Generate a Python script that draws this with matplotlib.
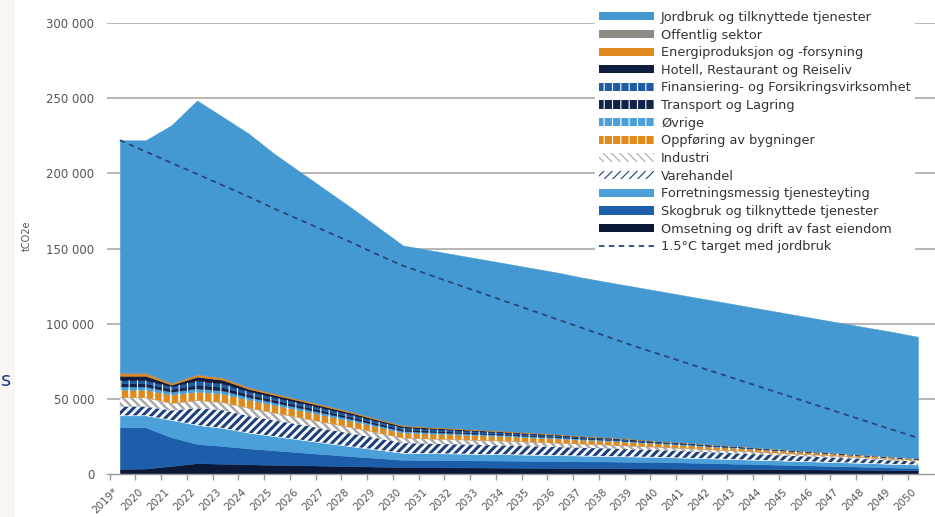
import numpy as np
import matplotlib
matplotlib.use('Agg')
import matplotlib.pyplot as plt
from matplotlib.patches import Rectangle, Patch
from matplotlib.lines import Line2D
from matplotlib.ticker import FuncFormatter

years = ['2019*'] + [str(y) for y in range(2020, 2051)]

# emissions per sector, 1000 tCO2e
omsetning = [3.3, 3.6, 5.3, 7.2, 6.8, 6.4, 6.1, 5.8, 5.5, 5.2, 4.9, 4.6, 4.5, 4.4, 4.3, 4.2,
             4.1, 4.0, 3.9, 3.8, 3.7, 3.6, 3.5, 3.4, 3.3, 3.2, 3.1, 3.0, 2.9, 2.8, 2.6, 2.5]
skogbruk = [27.7, 27.4, 19.1, 12.8, 11.8, 10.6, 9.6, 8.6, 7.6, 6.6, 5.7, 4.8, 4.8, 4.8, 4.7, 4.7,
            4.6, 4.6, 4.5, 4.5, 4.4, 4.4, 4.1, 3.8, 3.5, 3.2, 2.9, 2.6, 2.3, 2.0, 1.7, 1.5]
forretning = [8.0, 8.0, 11.6, 12.6, 12.0, 10.5, 9.5, 8.5, 7.5, 6.6, 5.6, 4.6, 4.5, 4.4, 4.3, 4.2,
              4.1, 3.9, 3.8, 3.6, 3.5, 3.3, 3.2, 3.1, 3.0, 2.9, 2.8, 2.7, 2.6, 2.5, 2.4, 2.3]
varehandel = [5.8, 5.8, 6.2, 11.1, 11.8, 11.0, 10.4, 9.8, 9.1, 8.4, 7.5, 6.5, 6.3, 6.1, 6.0, 5.8,
              5.6, 5.4, 5.2, 5.0, 4.7, 4.5, 4.3, 4.0, 3.8, 3.6, 3.3, 3.1, 2.8, 2.5, 2.3, 2.0]
industri = [6.2, 6.2, 5.0, 5.5, 5.3, 5.5, 5.2, 4.9, 4.6, 4.3, 3.9, 3.6, 3.5, 3.4, 3.3, 3.2,
            3.0, 2.9, 2.7, 2.6, 2.4, 2.2, 2.1, 2.0, 1.9, 1.7, 1.6, 1.5, 1.4, 1.2, 1.1, 1.0]
oppforing = [5.0, 5.0, 5.5, 5.5, 5.6, 5.4, 5.1, 4.8, 4.5, 4.1, 3.8, 3.4, 3.3, 3.2, 3.1, 3.0,
             2.9, 2.8, 2.6, 2.5, 2.4, 2.2, 2.1, 1.9, 1.8, 1.6, 1.5, 1.3, 1.2, 1.0, 0.9, 0.7]
ovrige = [2.2, 2.2, 2.0, 2.3, 2.2, 1.8, 1.7, 1.6, 1.5, 1.4, 1.2, 1.1, 1.0, 1.0, 0.9, 0.9,
          0.8, 0.8, 0.7, 0.7, 0.6, 0.5, 0.5, 0.4, 0.4, 0.3, 0.3, 0.2, 0.2, 0.2, 0.1, 0.1]
transport = [2.2, 2.2, 1.8, 2.5, 2.3, 1.8, 1.7, 1.6, 1.5, 1.4, 1.2, 1.1, 1.0, 0.9, 0.9, 0.8,
             0.7, 0.7, 0.6, 0.5, 0.5, 0.4, 0.4, 0.3, 0.3, 0.3, 0.2, 0.2, 0.2, 0.1, 0.1, 0.1]
finans = [1.9, 1.9, 1.7, 2.5, 2.3, 1.8, 1.7, 1.6, 1.5, 1.3, 1.2, 1.1, 1.0, 0.9, 0.8, 0.7,
          0.7, 0.6, 0.5, 0.5, 0.4, 0.3, 0.3, 0.3, 0.2, 0.2, 0.2, 0.1, 0.1, 0.1, 0.1, 0.05]
hotell = [3.0, 3.0, 1.2, 2.7, 2.5, 1.8, 1.6, 1.5, 1.4, 1.3, 1.1, 1.0, 0.9, 0.8, 0.7, 0.6,
          0.6, 0.5, 0.4, 0.4, 0.3, 0.2, 0.2, 0.2, 0.2, 0.1, 0.1, 0.1, 0.1, 0.1, 0.05, 0.05]
energi = [1.5, 1.5, 1.0, 1.3, 1.2, 1.0, 0.9, 0.8, 0.8, 0.7, 0.6, 0.5, 0.5, 0.5, 0.4, 0.4,
          0.4, 0.3, 0.3, 0.3, 0.3, 0.2, 0.2, 0.2, 0.2, 0.2, 0.1, 0.1, 0.1, 0.1, 0.1, 0.1]
offentlig = [0.8, 0.8, 0.3, 0.5, 0.5, 0.3, 0.3, 0.3, 0.3, 0.3, 0.3, 0.3, 0.2, 0.2, 0.2, 0.2,
             0.2, 0.2, 0.2, 0.2, 0.2, 0.1, 0.1, 0.1, 0.1, 0.1, 0.1, 0.1, 0.1, 0.1, 0.1, 0.1]
jordbruk = [154.4, 154.4, 171.3, 182.0, 173.2, 168.6, 159.2, 151.2, 143.2, 135.4, 127.5, 119.4,
            117.5, 115.4, 113.4, 111.3, 109.3, 107.3, 105.1, 102.9, 101.1, 99.6, 97.5, 95.8,
            93.8, 92.1, 90.3, 88.5, 86.5, 84.8, 83.0, 80.8]
target = [222.0, 214.5, 207.0, 199.5, 192.0, 184.5, 176.5, 169.0, 161.5, 154.0, 146.0, 138.5,
          132.6, 126.6, 120.7, 114.7, 108.8, 102.8, 96.9, 90.9, 85.0, 79.4, 73.9, 68.3,
          62.8, 57.2, 51.7, 46.1, 40.6, 35.0, 29.5, 24.0]

# bottom to top: label, data, fill colour, hatch, hatch colour, hatch width
layers = [
    ('Omsetning og drift av fast eiendom', omsetning, '#0c1838', None, None, 0),
    ('Skogbruk og tilknyttede tjenester', skogbruk, '#1c5ea9', None, None, 0),
    ('Forretningsmessig tjenesteyting', forretning, '#4ba0da', None, None, 0),
    ('Varehandel', varehandel, 'white', '////', '#1d3f7a', 2.2),
    ('Industri', industri, 'white', '\\\\\\\\', '#a9a9a9', 1.8),
    ('Oppføring av bygninger', oppforing, '#e08a1c', '||', 'white', 1.4),
    ('Øvrige', ovrige, '#4ba0da', '||', 'white', 0.8),
    ('Transport og Lagring', transport, '#14254d', '||', 'white', 0.8),
    ('Finansiering- og Forsikringsvirksomhet', finans, '#1f5ca6', '||', 'white', 0.8),
    ('Hotell, Restaurant og Reiseliv', hotell, '#0f1d40', None, None, 0),
    ('Energiproduksjon og -forsyning', energi, '#e0891e', None, None, 0),
    ('Offentlig sektor', offentlig, '#8f8b84', None, None, 0),
    ('Jordbruk og tilknyttede tjenester', jordbruk, '#4599d3', None, None, 0),
]

fig = plt.figure(figsize=(9.35, 5.17), dpi=100)
ax = fig.add_axes([107 / 935, 1 - 474 / 517, 828 / 935, 451 / 517])

# beige page strip with the cut-off letter at the far left
fig.add_artist(Rectangle((0, 0), 15 / 935, 1, transform=fig.transFigure,
                         facecolor='#fbf6f1', edgecolor='none', zorder=0))
fig.text(0.001, 1 - 381 / 517, 's', fontsize=14, color='#1d3c8f', va='center', ha='left')

# horizontal grid behind the areas
yticks = list(range(0, 300001, 50000))
for yv in yticks[1:]:
    ax.axhline(yv, color='#a3a3a3', lw=1.1, zorder=1)

x = np.arange(len(years))
base = np.zeros(len(years))
handles = []
for label, vals, face, hatch, hcol, hlw in layers:
    top = base + np.array(vals) * 1000
    ax.fill_between(x, base, top, facecolor=face, edgecolor=face, linewidth=0.3, zorder=2)
    if hatch:
        plt.rcParams['hatch.linewidth'] = hlw
        hc = ax.fill_between(x, base, top, facecolor='none', edgecolor=hcol, hatch=hatch,
                             linewidth=0, zorder=3)
        p = Patch(facecolor=face, edgecolor=hcol, hatch=hatch, linewidth=0)
        if hasattr(hc, 'set_hatch_linewidth'):
            hc.set_hatch_linewidth(hlw)
            p.set_hatch_linewidth(hlw)
    else:
        p = Patch(facecolor=face, edgecolor='none')
    handles.append((p, label))
    base = top

ax.plot(x, np.array(target) * 1000, color='#27467a', lw=1.3, ls=(0, (3, 2.5)), zorder=4)

ax.set_xlim(-0.5, 31.66)
ax.set_ylim(0, 300000)
ax.set_yticks(yticks)
ax.yaxis.set_major_formatter(FuncFormatter(lambda v, _: f'{int(v):,}'.replace(',', ' ')))
ax.tick_params(axis='y', length=0, pad=9, labelsize=8.5, labelcolor='#555555')

ax.set_xticks(x)
ax.set_xticklabels(years, rotation=45, ha='right', fontsize=7.5, color='#555555')
ax.tick_params(axis='x', which='major', length=0, pad=9)
ax.set_xticks(x - 0.4, minor=True)
ax.tick_params(axis='x', which='minor', length=4, color='#999999', width=1)

for s in ['top', 'right', 'left']:
    ax.spines[s].set_visible(False)
ax.spines['bottom'].set_color('#999999')
ax.spines['bottom'].set_linewidth(1)

fig.text(27 / 935, 1 - 236 / 517, 'tCO2e', rotation=90, fontsize=7, color='#555555',
         ha='center', va='center')

# legend, top of the stack first
leg_handles = [h for h, _ in handles[::-1]]
leg_labels = [l for _, l in handles[::-1]]
leg_handles.append(Line2D([], [], color='#27467a', lw=1.3, ls=(0, (3, 2.5))))
leg_labels.append('1.5°C target med jordbruk')
leg = ax.legend(leg_handles, leg_labels, loc='upper left', bbox_to_anchor=(595 / 935, 1 - 7 / 517),
                bbox_transform=fig.transFigure, fontsize=9.3, frameon=True, facecolor='white',
                edgecolor='none', framealpha=1, fancybox=False, handlelength=4.25, handleheight=0.6,
                handletextpad=0.55, labelspacing=0.36, borderpad=0.3, borderaxespad=0)
for t in leg.get_texts():
    t.set_color('#333333')

fig.savefig('out.png', dpi=100)
